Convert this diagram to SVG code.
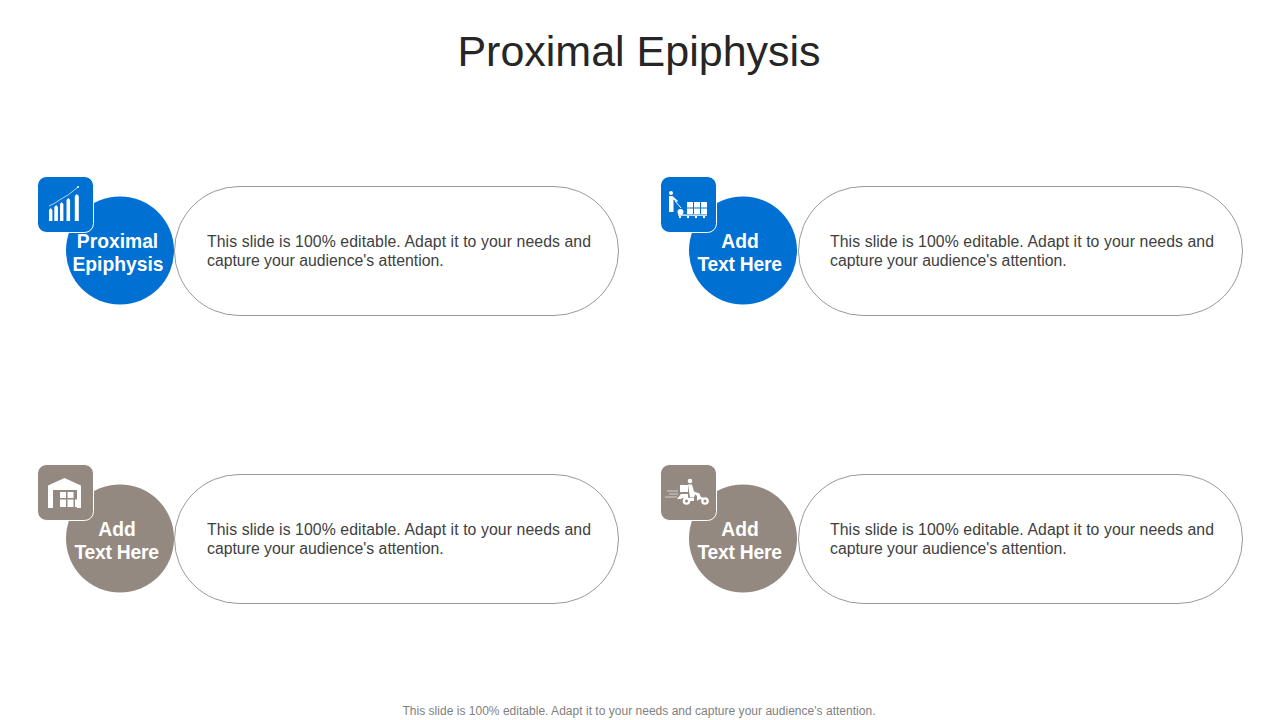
<svg xmlns="http://www.w3.org/2000/svg" width="1280" height="720" viewBox="0 0 1280 720">
<style>
text{font-family:"Liberation Sans",Arial,sans-serif}
.title{font-size:43px;fill:#262626;text-anchor:middle}
.lab{font-size:19.300px;font-weight:700;fill:#fff;text-anchor:middle}
.body{font-size:15.800px;fill:#404040}
.foot{font-size:12px;fill:#7f7f7f;text-anchor:middle}
.pill{fill:#fff;stroke:#7f7f7f;stroke-width:.8}
.blue{fill:#0070d2}
.taupe{fill:#948980}
.tile{stroke:#fff;stroke-width:1}
.w{fill:#fff}
.l{stroke:#fff;fill:none;stroke-width:1}
.t{fill:#948980}
</style>
<rect width="1280" height="720" fill="#fff"/>
<text class="title" x="639" y="66">Proximal Epiphysis</text>
<g id="connectors"></g>
<g id="node-1">
<rect class="pill" x="174.500" y="186.500" width="444" height="129" rx="64.500"/>
<circle class="blue" cx="120" cy="250.500" r="54"/>
<rect class="blue tile" x="37.500" y="176.500" width="56" height="56" rx="9"/>
<path class="w" d="M49 210l1.700-2 1.700 2v11h-3.400zM54.300 207l1.800-2 1.800 2v14h-3.600zM60 204l1.700-2 1.700 2v17h-3.400zM66.500 200l1.800-2 1.800 2v21h-3.600zM74.800 196l2-2 2 2v25h-4z"/>
<path class="l" d="M49 206L55 203L61 199L68 195L78 187" style="stroke-width:.7"/>
<circle class="w" cx="78" cy="187" r="1"/>
<text class="lab" x="117.500" y="248">Proximal</text>
<text class="lab" x="118" y="271">Epiphysis</text>
<text class="body" x="207" y="247" textLength="384" lengthAdjust="spacing">This slide is 100% editable. Adapt it to your needs and</text>
<text class="body" x="207" y="266">capture your audience's attention.</text>
</g>
<g id="node-2">
<rect class="pill" x="798.500" y="186.500" width="444" height="129" rx="64.500"/>
<circle class="blue" cx="743" cy="250.500" r="54"/>
<rect class="blue tile" x="660.500" y="176.500" width="56" height="56" rx="9"/>
<circle class="w" cx="671" cy="193" r="2"/>
<path class="w" d="M669 196h3.500l5.500 5 -1 1 -3.500 -2.500v12.500h-4.500z"/>
<path class="l" d="M675 201l6 7"/>
<circle class="w" cx="680.500" cy="212" r="3"/>
<path class="w" d="M687 202h6v5.500h-6zM694 202h6v5.500h-6zM701 202h6v5.500h-6zM687 208.500h6v5.500h-6zM694 208.500h6v5.500h-6zM701 208.500h6v5.500h-6zM678 214.500h29v1.200h-29z"/>
<circle class="w" cx="680" cy="217" r="1.200"/><circle class="w" cx="688" cy="217" r="1.200"/><circle class="w" cx="696" cy="217" r="1.200"/><circle class="w" cx="704" cy="217" r="1.200"/>
<text class="lab" x="740" y="248">Add</text>
<text class="lab" x="697.500" y="271" style="text-anchor:start" textLength="84.500" lengthAdjust="spacing">Text Here</text>
<text class="body" x="830" y="247" textLength="384" lengthAdjust="spacing">This slide is 100% editable. Adapt it to your needs and</text>
<text class="body" x="830" y="266">capture your audience's attention.</text>
</g>
<g id="node-3">
<rect class="pill" x="174.500" y="474.500" width="444" height="129" rx="64.500"/>
<circle class="taupe" cx="120" cy="538.500" r="54"/>
<rect class="taupe tile" x="37.500" y="464.500" width="56" height="56" rx="9"/>
<path class="w" d="M64.500 478L81 485.500V508H77V490H53V508H48V485.500z"/>
<path class="w" d="M60 492h6v6h-6zM67.500 492h6v6h-6zM60 499.500h6v7.500h-6zM67.500 499.500h6v7.500h-6zM75 499.500h6v7.500h-6z"/>
<text class="lab" x="117" y="536">Add</text>
<text class="lab" x="74.500" y="559" style="text-anchor:start" textLength="84.500" lengthAdjust="spacing">Text Here</text>
<text class="body" x="207" y="535" textLength="384" lengthAdjust="spacing">This slide is 100% editable. Adapt it to your needs and</text>
<text class="body" x="207" y="554">capture your audience's attention.</text>
</g>
<g id="node-4">
<rect class="pill" x="798.500" y="474.500" width="444" height="129" rx="64.500"/>
<circle class="taupe" cx="743" cy="538.500" r="54"/>
<rect class="taupe tile" x="660.500" y="464.500" width="56" height="56" rx="9"/>
<circle class="w" cx="690" cy="481" r="2.300"/>
<path class="w" d="M680 485h8v7h-8zM688 484.500h4l2 7 5 2 1 3h-2l-3-2-1 3h-4z"/>
<path class="w" d="M681 494h7v4h6v3h-5a5 5 0 0 0-8-2h-4z"/>
<path class="w" d="M697 493h2l2 4 6 2 2 3h-5a4 4 0 0 0-7-1z"/>
<circle class="w" cx="686.500" cy="501" r="3.800"/><circle class="t" cx="686.500" cy="501" r="1.500"/>
<circle class="w" cx="705" cy="501" r="3.800"/><circle class="t" cx="705" cy="501" r="1.500"/>
<path class="l" d="M667 491h11M669 494h9M665 497h12" style="stroke-width:.6"/>
<text class="lab" x="740" y="536">Add</text>
<text class="lab" x="697.500" y="559" style="text-anchor:start" textLength="84.500" lengthAdjust="spacing">Text Here</text>
<text class="body" x="830" y="535" textLength="384" lengthAdjust="spacing">This slide is 100% editable. Adapt it to your needs and</text>
<text class="body" x="830" y="554">capture your audience's attention.</text>
</g>
<text class="foot" x="639" y="715" textLength="473" lengthAdjust="spacing">This slide is 100% editable. Adapt it to your needs and capture your audience's attention.</text>
</svg>
